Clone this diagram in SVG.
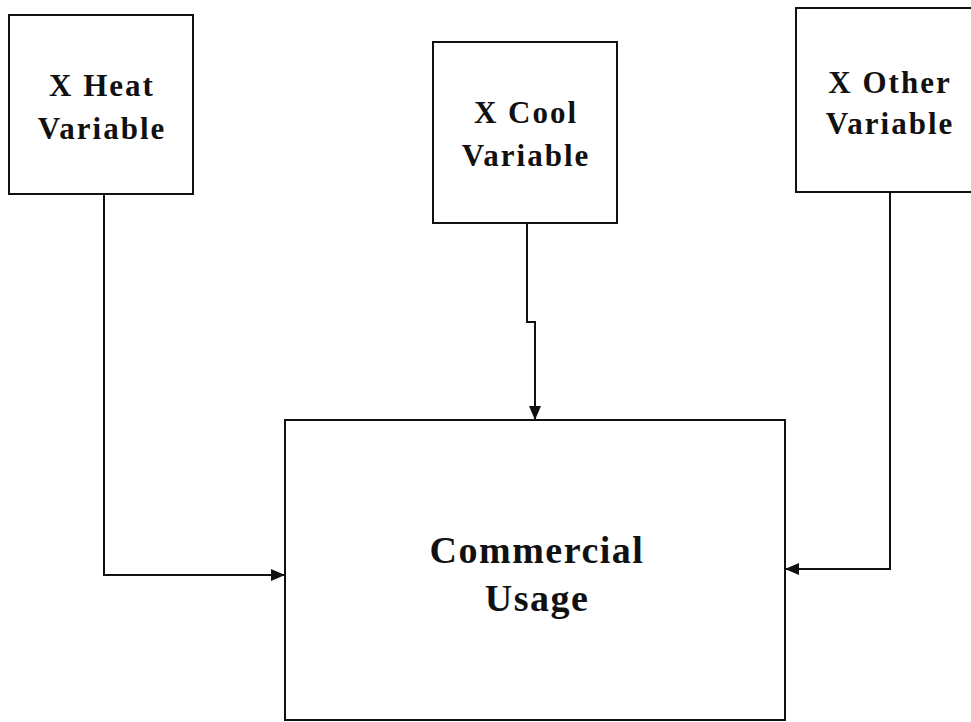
<svg xmlns="http://www.w3.org/2000/svg" width="971" height="722" viewBox="0 0 971 722">
  <style>
    .box { fill: #fff; stroke: #111; stroke-width: 2; }
    .lbl { font-family: "Liberation Serif", "Times New Roman", serif; font-weight: bold; fill: #111; text-anchor: middle; }
    .small { font-size: 31px; letter-spacing: 2px; }
    .big { font-size: 38px; letter-spacing: 1.5px; }
    .wire { fill: none; stroke: #111; stroke-width: 2; }
  </style>
  <defs>
    <marker id="arrow" viewBox="0 0 14 12" refX="14" refY="6" markerWidth="14" markerHeight="12" markerUnits="userSpaceOnUse" orient="auto">
      <path d="M0,0 L14,6 L0,12 Z" fill="#111"/>
    </marker>
  </defs>
  <rect width="971" height="722" fill="#fff"/>

  <g id="connectors">
    <path class="wire" d="M104,194 V575 H285" marker-end="url(#arrow)"/>
    <path class="wire" d="M527,223 V322 H535 V420" marker-end="url(#arrow)"/>
    <path class="wire" d="M890,192 V569 H785" marker-end="url(#arrow)"/>
  </g>

  <g id="heat">
    <rect class="box" x="9" y="15" width="184" height="179"/>
    <text class="lbl small" x="102" y="96">X Heat</text>
    <text class="lbl small" x="102" y="139">Variable</text>
  </g>

  <g id="cool">
    <rect class="box" x="433" y="42" width="184" height="181"/>
    <text class="lbl small" x="526" y="123">X Cool</text>
    <text class="lbl small" x="526" y="166">Variable</text>
  </g>

  <g id="other">
    <rect class="box" x="796" y="8" width="190" height="184"/>
    <text class="lbl small" x="890" y="93">X Other</text>
    <text class="lbl small" x="890" y="134">Variable</text>
  </g>

  <g id="usage">
    <rect class="box" x="285" y="420" width="500" height="300"/>
    <text class="lbl big" x="537" y="563">Commercial</text>
    <text class="lbl big" x="537" y="611">Usage</text>
  </g>
</svg>
